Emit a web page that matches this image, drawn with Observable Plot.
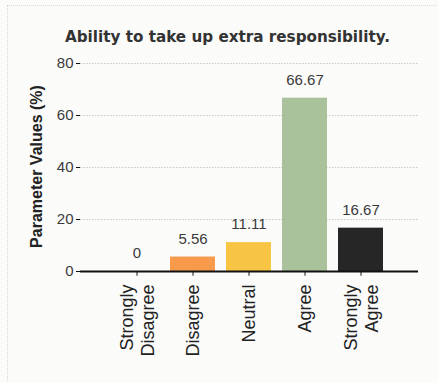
<!DOCTYPE html>
<html>
<head>
<meta charset="utf-8">
<script src="https://cdn.jsdelivr.net/npm/d3@7"></script>
<script src="https://cdn.jsdelivr.net/npm/@observablehq/plot@0.6"></script>
<style>
  html, body { margin: 0; padding: 0; background: #fbfbfa; }
  #wrap { position: relative; width: 438px; height: 383px; overflow: hidden; }
  #frame { position: absolute; left: 7px; top: 5px; width: 429px; height: 376px; border-left: 1px dotted #d8d8d8; border-top: 1px dotted #d8d8d8; box-sizing: border-box; pointer-events: none; }
  svg { position: absolute; left: 0; top: 0; }
</style>
</head>
<body>
<div id="wrap"><div id="frame"></div></div>
<script>
const title = "Ability to take up extra responsibility.";
const yLabel = "Parameter Values (%)";
const categories = ["Strongly Disagree", "Disagree", "Neutral", "Agree", "Strongly Agree"];
const tickLabels = ["Strongly\nDisagree", "Disagree", "Neutral", "Agree", "Strongly\nAgree"];
const values = [0, 5.56, 11.11, 66.67, 16.67];
const valueLabels = ["0", "5.56", "11.11", "66.67", "16.67"];
const colors = ["#ffffff", "#f79a4c", "#f8c444", "#a9c29c", "#262626"];
const yTicks = [0, 20, 40, 60, 80];

const data = categories.map((c, i) => ({cat: c, value: values[i], label: valueLabels[i], tick: tickLabels[i]}));

const chart = Plot.plot({
  width: 438,
  height: 383,
  marginTop: 63,
  marginBottom: 112,
  marginLeft: 80,
  marginRight: 20,
  style: {background: "transparent", fontFamily: "Liberation Sans, Arial, sans-serif"},
  x: {domain: categories, padding: 0.19, insetLeft: 21, insetRight: 22, axis: null},
  y: {domain: [0, 80], axis: null},
  color: {domain: categories, range: colors},
  marks: [
    Plot.ruleY(yTicks.slice(1), {stroke: "#c8c8c8", strokeDasharray: "1.5,1.5", strokeWidth: 1}),
    Plot.barY(data, {x: "cat", y: "value", fill: "cat"}),
    Plot.text(data, {x: "cat", y: "value", text: "label", dy: -18, fontSize: 15, fill: "#3a3a3a"}),
    Plot.ruleY([0], {stroke: "#111", strokeWidth: 2.2}),
    Plot.ruleX([0], {frameAnchor: "left", y1: 0, y2: 80, stroke: "#111", strokeWidth: 2.2}),
    Plot.axisY({ticks: yTicks, tickSize: 4, tickPadding: 3, fontSize: 15, color: "#3a3a3a", label: null, stroke: "#111"}),
    Plot.ruleX(data, {x: "cat", y1: 0, y2: -1.8, stroke: "#111"}),
    Plot.text(data, {x: "cat", frameAnchor: "bottom", text: "tick", rotate: -90, textAnchor: "end", lineAnchor: "middle", lineHeight: 1.12, dy: 13, fontSize: 18, fill: "#222"}),
    Plot.text([yLabel], {frameAnchor: "left", textAnchor: "middle", dx: -44, dy: -1, rotate: -90, fontWeight: "bold", fontSize: 16, fill: "#222"}),
    Plot.text([title], {frameAnchor: "top", dx: -22, dy: -32, fontFamily: "DejaVu Sans", fontWeight: "bold", fontSize: 15.2, fill: "#333"})
  ]
});
document.getElementById("wrap").prepend(chart);
</script>
</body>
</html>
